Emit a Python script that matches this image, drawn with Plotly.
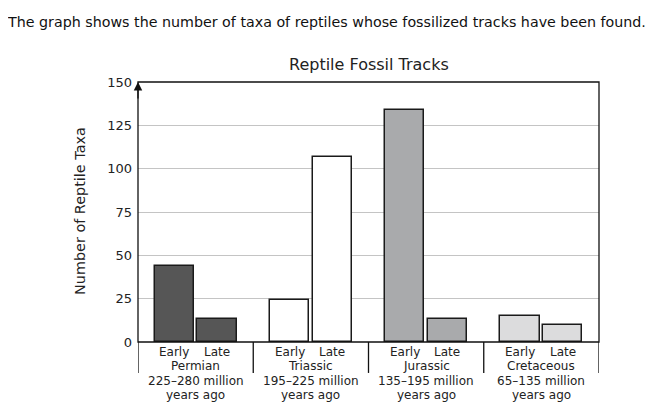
import plotly.graph_objects as go

periods = ["Permian", "Triassic", "Jurassic", "Cretaceous"]
ages = ["225–280 million", "195–225 million", "135–195 million", "65–135 million"]
subs = ["Early", "Late"]
early_vals = [44, 24.5, 134, 15]
late_vals = [13.5, 107, 13, 10]
colors = ["#565656", "#ffffff", "#a9aaac", "#dcdcdd"]
y_ticks = [0, 25, 50, 75, 100, 125, 150]

OFF = 0.37
W = 0.68
FONT = "DejaVu Sans"
TXT = "#222"

fig = go.Figure()
for g, name in enumerate(periods):
    c = 2 * g + 1
    xs = [c - OFF, c + OFF]
    fig.add_trace(go.Bar(
        x=xs, y=[early_vals[g], late_vals[g]], width=W,
        marker=dict(color=colors[g], line=dict(color="#1a1a1a", width=1.5)),
        showlegend=False, hoverinfo="skip"))

annotations = []
for g, name in enumerate(periods):
    c = 2 * g + 1
    for j, s in enumerate(subs):
        annotations.append(dict(x=c + (2 * j - 1) * OFF, y=0, xref="x", yref="paper",
                                yshift=-10, yanchor="middle", text=s, showarrow=False,
                                font=dict(family=FONT, size=12, color=TXT)))
    annotations.append(dict(x=c, y=0, xref="x", yref="paper", yshift=-24, yanchor="middle",
                            text=name, showarrow=False,
                            font=dict(family=FONT, size=12, color=TXT)))
    annotations.append(dict(x=c, y=0, xref="x", yref="paper", yshift=-39, yanchor="middle",
                            text=ages[g], showarrow=False,
                            font=dict(family=FONT, size=12, color=TXT)))
    annotations.append(dict(x=c, y=0, xref="x", yref="paper", yshift=-53, yanchor="middle",
                            text="years ago", showarrow=False,
                            font=dict(family=FONT, size=12, color=TXT)))

annotations.append(dict(x=0, y=1, xref="paper", yref="paper", ax=0, ay=18,
                        showarrow=True, arrowhead=2, arrowsize=1.3, arrowwidth=1.3,
                        arrowcolor="#111", text=""))
annotations.append(dict(x=0, y=0.5, xref="paper", yref="paper", xshift=-58, yshift=1,
                        xanchor="center", yanchor="middle",
                        text="Number of Reptile Taxa", textangle=-90, showarrow=False,
                        font=dict(family=FONT, size=14.4, color=TXT)))
annotations.append(dict(x=0.5, y=1, xref="paper", yref="paper", yshift=18,
                        xanchor="center", yanchor="middle",
                        text="Reptile Fossil Tracks", showarrow=False,
                        font=dict(family=FONT, size=16, color=TXT)))
annotations.append(dict(x=0, y=1, xref="paper", yref="paper", xshift=-133, yshift=60,
                        xanchor="left", yanchor="middle",
                        text="The graph shows the number of taxa of reptiles whose fossilized tracks have been found.",
                        showarrow=False, font=dict(family=FONT, size=14.25, color="#111")))

shapes = []
for k in range(5):
    shapes.append(dict(type="line", xref="x", yref="paper", x0=2 * k, x1=2 * k,
                       y0=-0.119, y1=0, line=dict(color="#111", width=1.3)))
shapes.append(dict(type="rect", xref="paper", yref="paper", x0=0, x1=1, y0=0, y1=1,
                   line=dict(color="#111", width=1.3), layer="above"))

fig.update_layout(
    width=646, height=412,
    margin=dict(l=130, r=55, t=74, b=78),
    paper_bgcolor="white", plot_bgcolor="white",
    bargap=0,
    xaxis=dict(range=[0, 8], showticklabels=False, showgrid=False,
               ticks="", showline=False, zeroline=False, fixedrange=True),
    yaxis=dict(range=[0, 150], tickvals=y_ticks, showgrid=True, gridcolor="#c4c4c4",
               gridwidth=1, zeroline=False, showline=False, ticks="",
               ticklabelstandoff=5,
               tickfont=dict(family=FONT, size=13, color=TXT), fixedrange=True),
    annotations=annotations, shapes=shapes,
)
fig.write_html("out.html")
